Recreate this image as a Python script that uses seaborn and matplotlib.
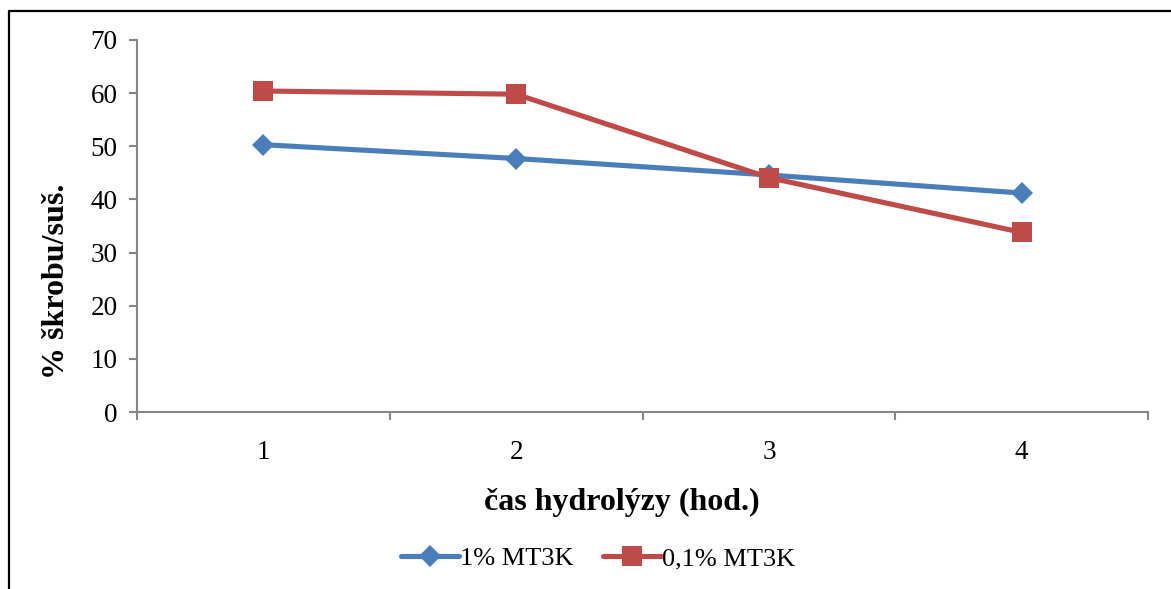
import matplotlib
matplotlib.use("Agg")
import matplotlib.pyplot as plt
from matplotlib.lines import Line2D
from matplotlib.ticker import FixedLocator, NullFormatter, FixedFormatter
import seaborn as sns
import pandas as pd

# Hydrolysis time (hours) and starch content per dry matter (%)
hours = [1, 2, 3, 4]
series_names = ["1% MT3K", "0,1% MT3K"]
starch_1pct = [50.3, 47.7, 44.6, 41.2]
starch_01pct = [60.4, 59.8, 44.1, 33.8]
y_ticks = [0, 10, 20, 30, 40, 50, 60, 70]

df = pd.DataFrame({
    "hod": hours * 2,
    "skrob": starch_1pct + starch_01pct,
    "serie": [series_names[0]] * 4 + [series_names[1]] * 4,
})

sns.set_theme(style="white")
plt.rcParams["font.family"] = ["Liberation Serif", "DejaVu Serif"]
plt.rcParams["text.color"] = "black"
plt.rcParams["axes.labelcolor"] = "black"

fig = plt.figure(figsize=(11.71, 5.89), dpi=100)
ax = fig.add_axes([0.117, 0.3005, 0.8634, 0.6316])

palette = {series_names[0]: "#4A7EBB", series_names[1]: "#BE4B48"}
markers = {series_names[0]: "D", series_names[1]: "s"}
sizes = {"D": 11, "s": 14}
sns.lineplot(data=df, x="hod", y="skrob", hue="serie", style="serie",
             markers=markers, dashes=False, palette=palette,
             linewidth=3.7, markersize=14, markeredgewidth=0,
             ax=ax, legend=False)
# the diamond is drawn a little smaller than the square
for line in ax.lines:
    if line.get_marker() in sizes:
        line.set_markersize(sizes[line.get_marker()])

ax.set_xlim(0.5, 4.5)
ax.set_ylim(0, 70)

axis_grey = "#868686"
for side in ["top", "right"]:
    ax.spines[side].set_visible(False)
for side in ["left", "bottom"]:
    ax.spines[side].set_color(axis_grey)
    ax.spines[side].set_linewidth(1.5)

ax.set_yticks(y_ticks)
ax.set_yticklabels([str(v) for v in y_ticks])
ax.tick_params(axis="y", which="major", direction="out", length=6, width=1.5,
               color=axis_grey, left=True, labelsize=19.5, pad=8, labelcolor="black")

# category boundaries carry the tick marks, centers carry the labels
ax.xaxis.set_major_locator(FixedLocator([0.5, 1.5, 2.5, 3.5, 4.5]))
ax.xaxis.set_major_formatter(NullFormatter())
ax.xaxis.set_minor_locator(FixedLocator(hours))
ax.xaxis.set_minor_formatter(FixedFormatter([str(h) for h in hours]))
ax.tick_params(axis="x", which="major", direction="out", length=6, width=1.5,
               color=axis_grey, bottom=True)
ax.tick_params(axis="x", which="minor", length=0, labelsize=19.5, pad=20,
               labelcolor="black")

ax.set_xlabel("čas hydrolýzy (hod.)", fontsize=23, fontweight="bold", color="black")
ax.set_ylabel("% škrobu/suš.", fontsize=23, fontweight="bold", color="black")
ax.xaxis.set_label_coords(0.48, -0.205)
ax.yaxis.set_label_coords(-0.065, 0.352)

handles = [
    Line2D([], [], color=palette[series_names[0]], marker="D", markersize=11,
           linewidth=3.7, markeredgewidth=0),
    Line2D([], [], color=palette[series_names[1]], marker="s", markersize=14,
           linewidth=3.7, markeredgewidth=0),
]
fig.legend(handles, series_names, loc="center", bbox_to_anchor=(0.511, 0.052),
           ncol=2, frameon=False, fontsize=19, handlelength=2.2,
           handletextpad=0.05, columnspacing=1.1, labelcolor="black")

# outer chart frame (left and top edges)
fig.add_artist(Line2D([9 / 1171, 9 / 1171], [0, 1 - 11 / 589],
                      transform=fig.transFigure, color="black", linewidth=1.6))
fig.add_artist(Line2D([9 / 1171, 1], [1 - 11 / 589, 1 - 11 / 589],
                      transform=fig.transFigure, color="black", linewidth=1.6))

fig.savefig("out.png", dpi=100, facecolor="white")
